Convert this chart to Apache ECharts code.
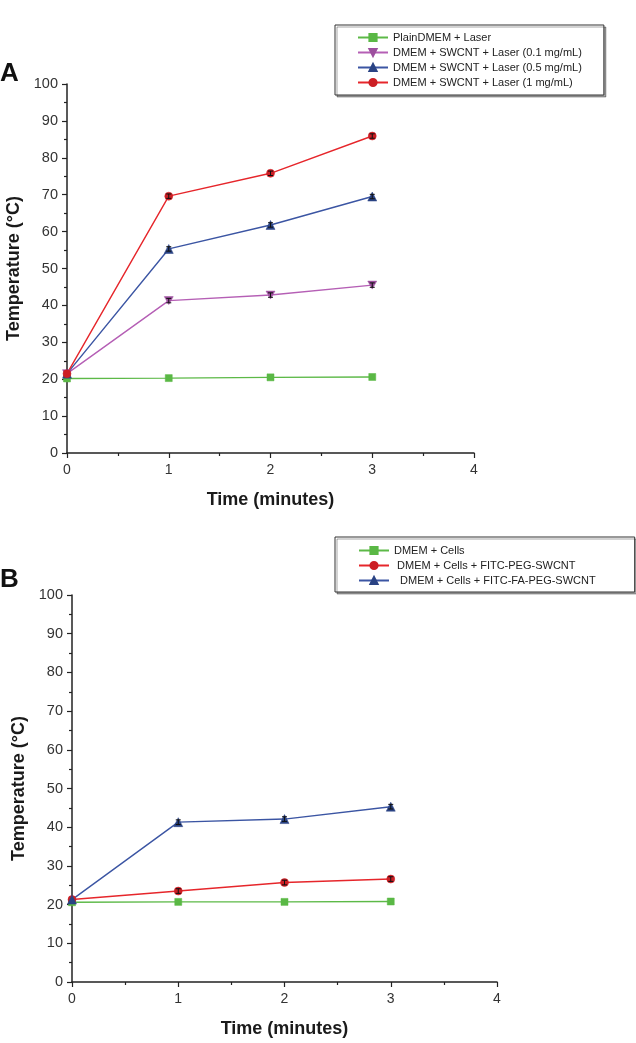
<!DOCTYPE html>
<html>
<head>
<meta charset="utf-8">
<script src="https://cdn.jsdelivr.net/npm/echarts@6/dist/echarts.min.js"></script>
<style>
html,body{margin:0;padding:0;background:#fff;}
#chart{width:636px;height:1043px;}
</style>
</head>
<body>
<div id="chart"></div>
<script>
// ---- Data ----
const times = [0, 1, 2, 3];
const xTicks = [0, 1, 2, 3, 4];
const yTicks = [0, 10, 20, 30, 40, 50, 60, 70, 80, 90, 100];

const namesA = [
  'PlainDMEM + Laser',
  'DMEM + SWCNT + Laser (0.1 mg/mL)',
  'DMEM + SWCNT + Laser (0.5 mg/mL)',
  'DMEM + SWCNT + Laser (1 mg/mL)'
];
const plainA = [20.2, 20.3, 20.5, 20.6];
const low01A = [21.5, 41.3, 42.8, 45.5];
const mid05A = [21.5, 55.3, 61.8, 69.5];
const high1A = [21.5, 69.6, 75.8, 85.9];
const errA = [0, 0.6, 0.6, 0.6];

const namesB = [
  'DMEM + Cells',
  ' DMEM + Cells + FITC-PEG-SWCNT',
  '  DMEM + Cells + FITC-FA-PEG-SWCNT'
];
const cellsB = [20.6, 20.7, 20.7, 20.8];
const pegB = [21.3, 23.5, 25.7, 26.6];
const faPegB = [21.3, 41.3, 42.1, 45.3];
const errB = [0, 0.6, 0.6, 0.6];

// ---- Styles ----
const GREEN = '#5cb947', PURPLE = '#b55fb5', BLUE = '#3b55a3', RED = '#e6262b';
const MGREEN = '#5ab845', MPURPLE = '#9d4f9e', MBLUE = '#2a4384', MRED = '#cc1e24';
const FONT = 'Liberation Sans, Arial, sans-serif';

function pairs(vals) { return times.map((t, i) => [t, vals[i]]); }
function errPairs(vals, errs) { return times.map((t, i) => [t, vals[i], errs[i]]); }

const SIZES = { rect: 7, circle: 8, triangle: 9, down: [9, 8] };

function lineSeries(name, vals, color, mcolor, symbol, gi) {
  const isDown = symbol === 'down';
  return {
    type: 'line', name: name, xAxisIndex: gi, yAxisIndex: gi,
    data: pairs(vals),
    symbol: isDown ? 'path://M0,0 L10,0 L5,9 Z' : symbol,
    symbolSize: SIZES[symbol],
    lineStyle: { color: color, width: 1.4 },
    itemStyle: { color: mcolor, borderColor: mcolor, borderWidth: 0.5 },
    emphasis: { disabled: true }, z: 3
  };
}
function errSeries(vals, errs, gi) {
  return {
    type: 'custom', xAxisIndex: gi, yAxisIndex: gi, z: 4, silent: true,
    data: errPairs(vals, errs),
    renderItem: function (params, api) {
      const x = api.value(0), y = api.value(1), e = api.value(2);
      if (!e) return null;
      const t = api.coord([x, y + e]), b = api.coord([x, y - e]);
      const st = { stroke: '#111', lineWidth: 1, fill: null };
      return { type: 'group', children: [
        { type: 'line', shape: { x1: t[0], y1: t[1], x2: b[0], y2: b[1] }, style: st },
        { type: 'line', shape: { x1: t[0] - 2.5, y1: t[1], x2: t[0] + 2.5, y2: t[1] }, style: st },
        { type: 'line', shape: { x1: b[0] - 2.5, y1: b[1], x2: b[0] + 2.5, y2: b[1] }, style: st }
      ]};
    }
  };
}

function xAxisCfg(gi) {
  return {
    type: 'value', gridIndex: gi, min: xTicks[0], max: xTicks[xTicks.length - 1], interval: 1,
    name: 'Time (minutes)', nameLocation: 'middle', nameGap: 38,
    nameTextStyle: { fontFamily: FONT, fontSize: 18, fontWeight: 'bold', color: '#1a1a1a' },
    axisLine: { show: true, onZero: false, lineStyle: { color: '#222', width: 1.5 } },
    axisTick: { show: true, inside: false, length: 5, lineStyle: { color: '#222', width: 1.2 } },
    minorTick: { show: true, splitNumber: 2, length: 3, lineStyle: { color: '#222', width: 1.2 } },
    axisLabel: { fontFamily: FONT, fontSize: 14, color: '#333', margin: 10 },
    splitLine: { show: false }
  };
}
function yAxisCfg(gi) {
  return {
    type: 'value', gridIndex: gi, min: yTicks[0], max: yTicks[yTicks.length - 1], interval: 10,
    name: 'Temperature (\u00B0C)', nameLocation: 'middle', nameGap: 43,
    nameTextStyle: { fontFamily: FONT, fontSize: 18, fontWeight: 'bold', color: '#1a1a1a' },
    axisLine: { show: true, lineStyle: { color: '#222', width: 1.5 } },
    axisTick: { show: true, inside: false, length: 5, lineStyle: { color: '#222', width: 1.2 } },
    minorTick: { show: true, splitNumber: 2, length: 3, lineStyle: { color: '#222', width: 1.2 } },
    axisLabel: { fontFamily: FONT, fontSize: 14.5, color: '#333', margin: 9 },
    splitLine: { show: false }
  };
}
function legendCfg(names, top, pad) {
  return {
    data: names, orient: 'vertical', left: 335, top: top,
    itemWidth: 30, itemHeight: 9, itemGap: 2,
    padding: pad, borderColor: '#333', borderWidth: 1,
    shadowColor: 'rgba(0,0,0,0.35)', shadowOffsetX: 2, shadowOffsetY: 2, shadowBlur: 0,
    backgroundColor: '#fff',
    textStyle: { fontFamily: FONT, fontSize: 11, lineHeight: 13, color: '#222', padding: [0, 0, 0, 0] },
    selectedMode: false
  };
}

const option = {
  backgroundColor: '#fff',
  animation: false,
  title: [
    { text: 'A', left: 0, top: 61, padding: 0, textStyle: { fontFamily: FONT, fontSize: 26, fontWeight: 'bold', color: '#111' } },
    { text: 'B', left: 0, top: 567, padding: 0, textStyle: { fontFamily: FONT, fontSize: 26, fontWeight: 'bold', color: '#111' } }
  ],
  legend: [
    legendCfg(namesA, 25, [6, 22, 6, 22]),
    legendCfg(namesB, 537, [7, 39, 5, 23])
  ],
  grid: [
    { left: 67, top: 84, width: 407, height: 369, containLabel: false, outerBoundsMode: 'none' },
    { left: 72, top: 595, width: 425, height: 387, containLabel: false, outerBoundsMode: 'none' }
  ],
  xAxis: [xAxisCfg(0), xAxisCfg(1)],
  yAxis: [yAxisCfg(0), yAxisCfg(1)],
  series: [
    lineSeries(namesA[0], plainA, GREEN, MGREEN, 'rect', 0),
    lineSeries(namesA[1], low01A, PURPLE, MPURPLE, 'down', 0),
    lineSeries(namesA[2], mid05A, BLUE, MBLUE, 'triangle', 0),
    lineSeries(namesA[3], high1A, RED, MRED, 'circle', 0),
    errSeries(low01A, errA, 0),
    errSeries(mid05A, errA, 0),
    errSeries(high1A, errA, 0),
    lineSeries(namesB[0], cellsB, GREEN, MGREEN, 'rect', 1),
    lineSeries(namesB[1], pegB, RED, MRED, 'circle', 1),
    lineSeries(namesB[2], faPegB, BLUE, MBLUE, 'triangle', 1),
    errSeries(pegB, errB, 1),
    errSeries(faPegB, errB, 1)
  ]
};

const chart = echarts.init(document.getElementById('chart'), null, { renderer: 'canvas' });
chart.setOption(option);
</script>
</body>
</html>
